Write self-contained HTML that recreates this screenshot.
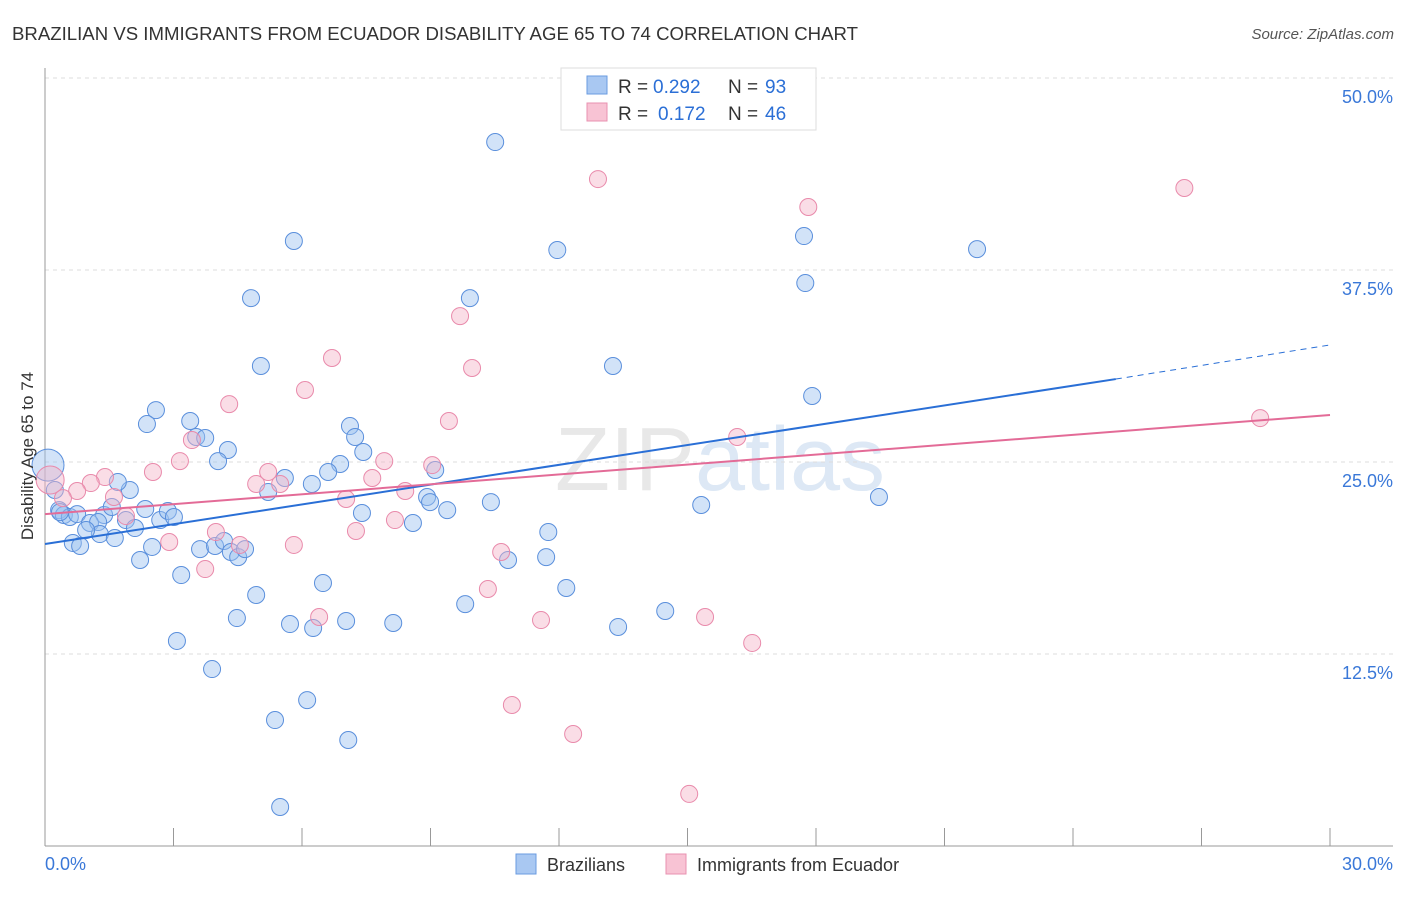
<!DOCTYPE html>
<html><head><meta charset="utf-8"><style>
body{margin:0;background:#fff;font-family:"Liberation Sans",sans-serif;}
svg text{font-family:"Liberation Sans",sans-serif;}
</style></head><body>
<svg id="chart" width="1406" height="892" xmlns="http://www.w3.org/2000/svg">
<text x="12" y="40" font-size="18" fill="#333" textLength="846" lengthAdjust="spacingAndGlyphs">BRAZILIAN VS IMMIGRANTS FROM ECUADOR DISABILITY AGE 65 TO 74 CORRELATION CHART</text>
<text x="1394" y="39" font-size="15" fill="#555" text-anchor="end" font-style="italic">Source: ZipAtlas.com</text>
<text x="720" y="490" font-size="90" fill="#e8e8e8" text-anchor="middle" font-family="Liberation Serif">ZIP<tspan fill="#dde8f5" font-family="Liberation Sans">atlas</tspan></text>
<g id="grid"></g>
<g id="axes"></g>
<g id="pts"></g>
<g id="lines"></g>
<text transform="translate(33,456) rotate(-90)" font-size="17" fill="#333" text-anchor="middle">Disability Age 65 to 74</text>
<g>
<rect x="561" y="68" width="255" height="62" fill="#fff" stroke="#ddd"/>
<rect x="587" y="76" width="20" height="18" fill="#a9c8f2" stroke="#6a9be0"/>
<text x="618" y="93" font-size="19" fill="#333">R =</text>
<text x="653" y="93" font-size="19" fill="#2b6fd6">0.292</text>
<text x="728" y="93" font-size="19" fill="#333">N =</text>
<text x="765" y="93" font-size="19" fill="#2b6fd6">93</text>
<rect x="587" y="103" width="20" height="18" fill="#f8c3d4" stroke="#e892b0"/>
<text x="618" y="120" font-size="19" fill="#333">R =</text>
<text x="658" y="120" font-size="19" fill="#2b6fd6">0.172</text>
<text x="728" y="120" font-size="19" fill="#333">N =</text>
<text x="765" y="120" font-size="19" fill="#2b6fd6">46</text>
</g>
<g>
<rect x="516" y="854" width="20" height="20" fill="#a9c8f2" stroke="#6a9be0"/>
<text x="547" y="871" font-size="18" fill="#333">Brazilians</text>
<rect x="666" y="854" width="20" height="20" fill="#f8c3d4" stroke="#e892b0"/>
<text x="697" y="871" font-size="18" fill="#333">Immigrants from Ecuador</text>
</g>
</svg>
<script>
const blueX=[10.51,5.81,11.96,17.72,21.76,17.75,4.81,9.92,5.04,13.26,17.91,2.59,2.38,3.39,7.12,3.53,3.74,4.27,7.24,7.43,4.04,6.89,6.61,5.60,6.23,5.21,9.11,1.98,1.70,8.92,8.99,9.39,10.41,15.32,19.47,7.40,8.59,11.75,0.33,0.44,0.58,0.75,1.38,1.56,1.05,1.24,1.89,2.34,2.69,2.87,3.01,1.28,1.63,2.10,0.96,0.65,0.82,2.50,2.22,3.62,3.97,4.18,4.34,4.51,4.67,3.18,10.81,11.70,6.49,4.93,12.17,9.81,14.48,4.48,5.72,6.26,7.03,8.13,13.38,3.08,3.90,6.12,5.37,7.08,5.49,0.23,0.35];
const blueY=[45.83,39.39,38.80,39.71,38.86,36.65,35.67,35.67,31.25,31.25,29.30,28.38,27.47,27.67,27.34,26.63,26.56,25.78,26.63,25.65,25.06,24.87,24.35,23.96,23.57,23.05,24.48,23.18,23.70,22.72,22.39,21.87,22.39,22.20,22.72,21.68,21.03,20.44,21.87,21.55,21.42,21.61,21.55,22.07,21.03,21.09,21.22,21.94,21.22,21.81,21.42,20.31,20.05,20.70,20.57,19.73,19.53,19.47,18.62,19.33,19.53,19.86,19.14,18.81,19.33,17.64,18.62,18.81,17.12,16.34,16.80,15.75,15.30,14.84,14.45,14.19,14.65,14.52,14.26,13.35,11.52,9.50,8.20,6.90,2.54,23.18,21.74];
const pinkX=[12.91,26.60,17.82,9.69,6.70,9.97,6.07,4.30,9.43,3.43,16.16,28.37,3.15,7.92,5.21,1.40,2.52,1.07,0.75,0.42,1.61,9.04,7.64,4.93,5.49,8.41,7.03,7.26,8.17,1.89,3.99,2.90,4.55,5.81,3.74,10.65,10.34,6.40,11.58,15.41,16.51,10.90,12.33,15.04];
const pinkY=[43.42,42.84,41.60,34.50,31.77,31.12,29.69,28.77,27.67,26.43,26.63,27.86,25.06,25.06,24.35,24.02,24.35,23.63,23.11,22.65,22.72,24.80,23.96,23.57,23.57,23.11,22.59,20.51,21.22,21.48,20.44,19.79,19.60,19.60,18.03,19.14,16.73,14.91,14.71,14.91,13.22,9.18,7.29,3.39];
const yTicks=[12.5,25.0,37.5,50.0];
const xTickLabels=["0.0%","30.0%"];
const blueTrend=[19.66,30.40,32.62];
const pinkTrend=[21.61,28.06];
const NS="http://www.w3.org/2000/svg";
const X=v=>45+v*(1285/30), Y=v=>846-v*15.36;
function mk(t,a,p){const e=document.createElementNS(NS,t);for(const k in a)e.setAttribute(k,a[k]);p.appendChild(e);return e;}
const grid=document.getElementById('grid'),axes=document.getElementById('axes'),pts=document.getElementById('pts'),lines=document.getElementById('lines');
yTicks.forEach(t=>{
 const l=mk('line',{x1:45,x2:1393,y1:Y(t),y2:Y(t),stroke:'#ddd','stroke-dasharray':'4,4'},grid);
 
 
 const tx=mk('text',{x:1393,y:Y(t)+25,'font-size':18,fill:'#3a78d8','text-anchor':'end'},axes);
 tx.textContent=t.toFixed(1)+'%';
 
 
});
const ya=mk('line',{x1:45,x2:45,y1:68,y2:846,stroke:'#999'},axes);


const xa=mk('line',{x1:45,x2:1393,y1:846,y2:846,stroke:'#999'},axes);


for(let i=1;i<=10;i++){
 const tk=mk('line',{x1:X(i*3),x2:X(i*3),y1:828,y2:846,stroke:'#999'},axes);
 
 
}
[[0,'start',45],[30,'end',1393]].forEach((d,i)=>{
 const tx=mk('text',{x:d[2],y:870,'font-size':18,fill:'#3a78d8','text-anchor':d[1]},axes);
 tx.textContent=xTickLabels[i];
 
 
});
function dots(xs,ys,fill,stroke,name){
 xs.forEach((x,i)=>{
  const c=mk('circle',{cx:X(x),cy:Y(ys[i]),r:8.5,fill:fill,'fill-opacity':0.45,stroke:stroke,'stroke-width':1},pts);
  
  
 });
}
dots(blueX,blueY,'#9cc0ef','#5a8fdc','brazilians-point');
dots(pinkX,pinkY,'#f5b3c8','#e98aab','ecuador-point');
const bb=mk('circle',{cx:X(0.07),cy:Y(24.8),r:16,fill:'#9cc0ef','fill-opacity':0.45,stroke:'#5a8fdc'},pts);


const pb=mk('circle',{cx:X(0.12),cy:Y(23.83),r:14,fill:'#f5b3c8','fill-opacity':0.45,stroke:'#e98aab'},pts);


const bl=mk('line',{x1:X(0),y1:Y(blueTrend[0]),x2:X(25),y2:Y(blueTrend[1]),stroke:'#2a6fd6','stroke-width':2},lines);


const bd=mk('line',{x1:X(25),y1:Y(blueTrend[1]),x2:X(30),y2:Y(blueTrend[2]),stroke:'#2a6fd6','stroke-width':1,'stroke-dasharray':'6,5'},lines);


const pl=mk('line',{x1:X(0),y1:Y(pinkTrend[0]),x2:X(30),y2:Y(pinkTrend[1]),stroke:'#e36b97','stroke-width':2},lines);


</script>
</body></html>
